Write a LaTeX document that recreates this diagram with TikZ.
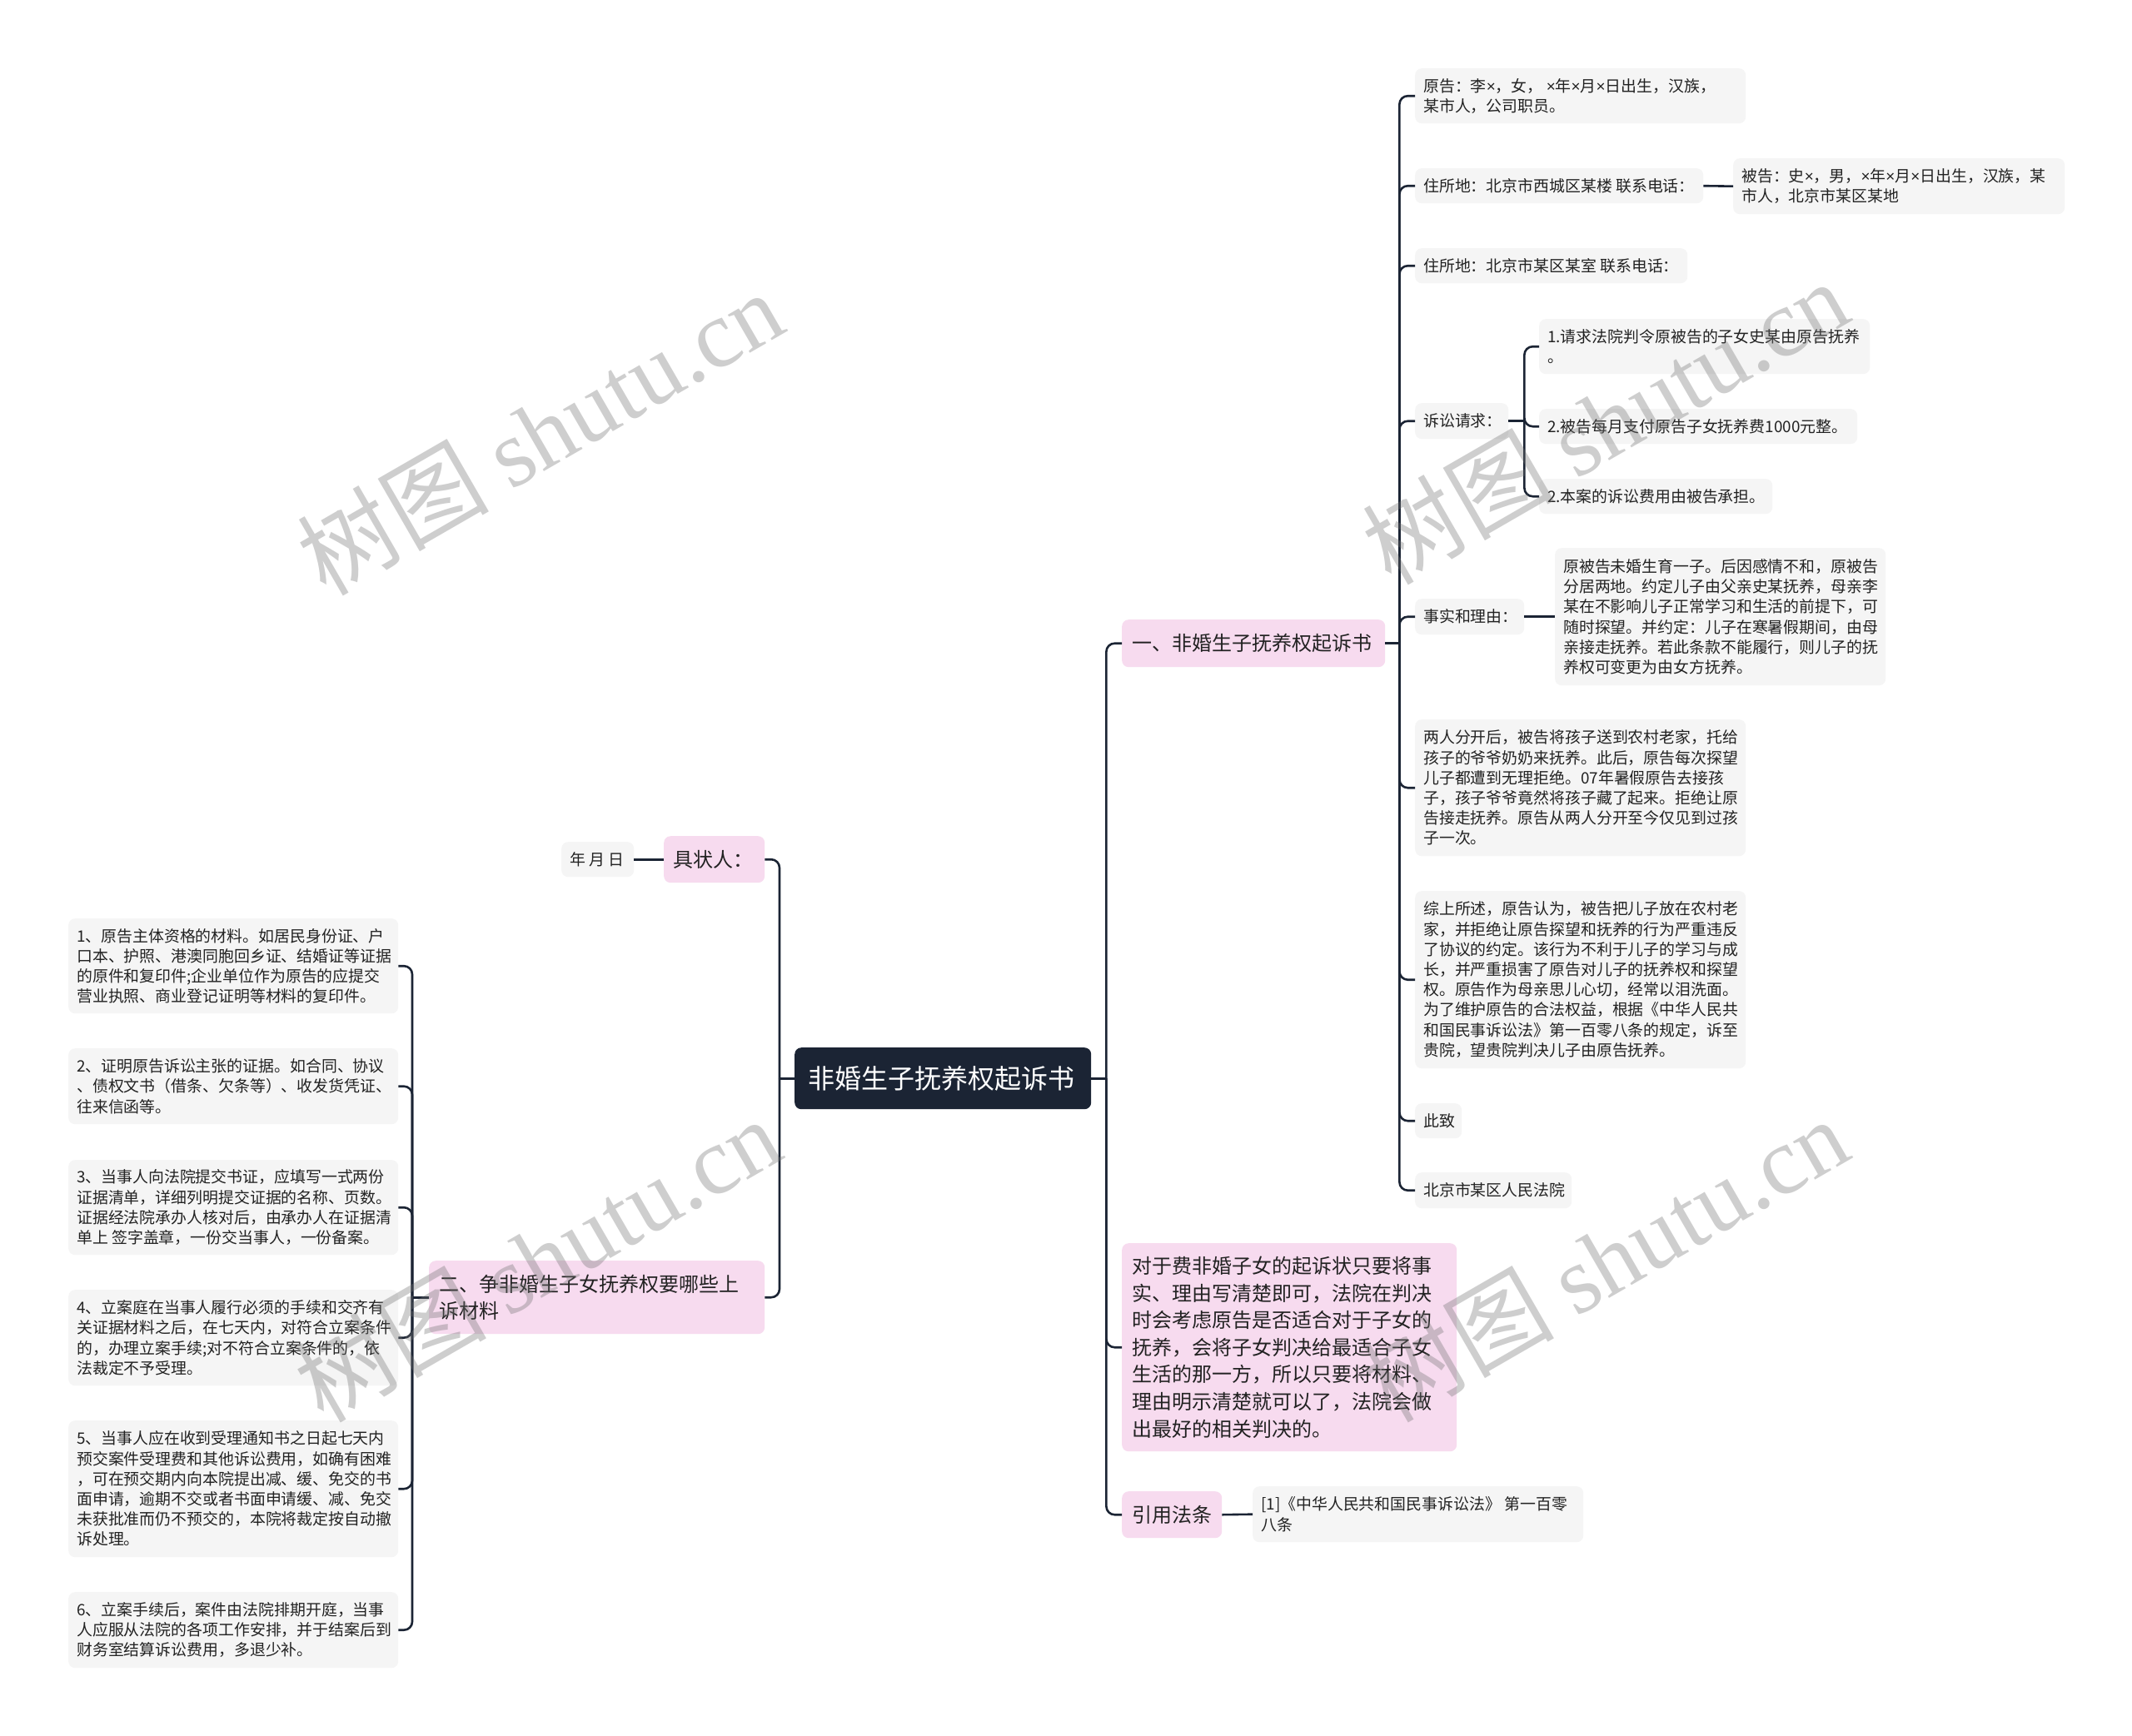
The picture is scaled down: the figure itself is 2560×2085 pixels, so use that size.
\documentclass[tikz,border=0pt]{standalone}
\usepackage{fontspec}
\setmainfont{Noto Sans CJK SC}
\newfontfamily\wmserif{Liberation Serif}
\newfontfamily\latinsans{Liberation Sans}
\newcommand\X{{\latinsans ×}}
\definecolor{leafgray}{HTML}{F5F5F5}
\definecolor{pinkbg}{HTML}{F7DBEF}
\definecolor{rootbg}{HTML}{1B2434}
\definecolor{linec}{HTML}{1B2434}
\definecolor{txt}{HTML}{222222}
\tikzset{
  leaf/.style={fill=leafgray, rounded corners=8, inner sep=0},
  leaftxt/.style={align=left, inner sep=0, text=txt, font=\fontsize{18.9}{24.2}\selectfont},
  pink/.style={fill=pinkbg, rounded corners=8, inner sep=0},
  pinktxt/.style={align=left, inner sep=0, text=txt, font=\fontsize{24}{32.6}\selectfont},
  rootbox/.style={fill=rootbg, rounded corners=8, inner sep=0},
  roottxt/.style={align=left, inner sep=0, text=white, font=\fontsize{32}{38}\selectfont},
  conn/.style={draw=linec, line width=2.6, rounded corners=10},
  wm/.style={inner sep=0, text=black!55, text opacity=0.35, font=\fontsize{115}{115}\selectfont},
}
% name, x1, y1, x2, y2, box style, text style, padding, text
\newcommand\bx[9]{%
  \node[#6, anchor=north west, minimum width={#4-#2}, minimum height={#5-#3}] (#1) at (#2,#3) {};
  \node[#7, anchor=west] (#1t) at ([xshift=#8]#1.west) {#9};}
\begin{document}
\begin{tikzpicture}[x=1pt, y=-1pt]
\useasboundingbox (0,0) rectangle (2560,2085);
\fill[white] (0,0) rectangle (2560,2085);

% root and first level
\bx{root}{954}{1258}{1310}{1332}{rootbox}{roottxt}{16}{非婚生子抚养权起诉书}
\bx{p1}{1347}{744}{1663}{801}{pink}{pinktxt}{12}{一、非婚生子抚养权起诉书}
\bx{p2}{1347}{1493}{1749}{1743}{pink}{pinktxt}{12}{对于费非婚子女的起诉状只要将事\\实、理由写清楚即可，法院在判决\\时会考虑原告是否适合对于子女的\\抚养，会将子女判决给最适合子女\\生活的那一方，所以只要将材料、\\理由明示清楚就可以了，法院会做\\出最好的相关判决的。}
\bx{p3}{1347}{1791}{1467}{1847}{pink}{pinktxt}{12}{引用法条}
\bx{law}{1504}{1785}{1901}{1852}{leaf}{leaftxt}{10}{[1]《中华人民共和国民事诉讼法》 第一百零\\八条}
\bx{jz}{797}{1004}{918}{1060}{pink}{pinktxt}{11}{具状人：}
\bx{ymr}{674}{1011}{761}{1053}{leaf}{leaftxt}{10}{年 月 日}
\bx{p4}{515}{1514}{918}{1602}{pink}{pinktxt}{12}{二、争非婚生子女抚养权要哪些上\\诉材料}

% right leaves
\bx{yg}{1699}{82}{2096}{148}{leaf}{leaftxt}{10}{原告：李\X，女， \X 年\X 月\X 日出生，汉族，\\某市人，公司职员。}
\bx{zs1}{1699}{202}{2045}{244}{leaf}{leaftxt}{10}{住所地：北京市西城区某楼 联系电话：}
\bx{bg}{2081}{190}{2479}{257}{leaf}{leaftxt}{10}{被告：史\X，男，\X 年\X 月\X 日出生，汉族，某\\市人，北京市某区某地}
\bx{zs2}{1699}{298}{2026}{340}{leaf}{leaftxt}{10}{住所地：北京市某区某室 联系电话：}
\bx{ssqq}{1699}{484}{1811}{527}{leaf}{leaftxt}{10}{诉讼请求：}
\bx{req1}{1848}{383}{2245}{449}{leaf}{leaftxt}{10}{1.请求法院判令原被告的子女史某由原告抚养\\。}
\bx{req2}{1848}{491}{2230}{533}{leaf}{leaftxt}{10}{2.被告每月支付原告子女抚养费1000元整。}
\bx{req3}{1848}{575}{2128}{617}{leaf}{leaftxt}{10}{2.本案的诉讼费用由被告承担。}
\bx{sshly}{1699}{719}{1830}{762}{leaf}{leaftxt}{10}{事实和理由：}
\bx{facts}{1867}{658}{2264}{823}{leaf}{leaftxt}{10}{原被告未婚生育一子。后因感情不和，原被告\\分居两地。约定儿子由父亲史某抚养，母亲李\\某在不影响儿子正常学习和生活的前提下，可\\随时探望。并约定：儿子在寒暑假期间，由母\\亲接走抚养。若此条款不能履行，则儿子的抚\\养权可变更为由女方抚养。}
\bx{lr}{1699}{864}{2096}{1028}{leaf}{leaftxt}{10}{两人分开后，被告将孩子送到农村老家，托给\\孩子的爷爷奶奶来抚养。此后，原告每次探望\\儿子都遭到无理拒绝。07年暑假原告去接孩\\子，孩子爷爷竟然将孩子藏了起来。拒绝让原\\告接走抚养。原告从两人分开至今仅见到过孩\\子一次。}
\bx{zsh}{1699}{1070}{2096}{1283}{leaf}{leaftxt}{10}{综上所述，原告认为，被告把儿子放在农村老\\家，并拒绝让原告探望和抚养的行为严重违反\\了协议的约定。该行为不利于儿子的学习与成\\长，并严重损害了原告对儿子的抚养权和探望\\权。原告作为母亲思儿心切，经常以泪洗面。\\为了维护原告的合法权益，根据《中华人民共\\和国民事诉讼法》第一百零八条的规定，诉至\\贵院，望贵院判决儿子由原告抚养。}
\bx{cz}{1699}{1325}{1755}{1367}{leaf}{leaftxt}{10}{此致}
\bx{fy}{1699}{1408}{1887}{1451}{leaf}{leaftxt}{10}{北京市某区人民法院}

% left leaves
\bx{i1}{82}{1103}{478}{1217}{leaf}{leaftxt}{10}{1、原告主体资格的材料。如居民身份证、户\\口本、护照、港澳同胞回乡证、结婚证等证据\\的原件和复印件;企业单位作为原告的应提交\\营业执照、商业登记证明等材料的复印件。}
\bx{i2}{82}{1259}{478}{1350}{leaf}{leaftxt}{10}{2、证明原告诉讼主张的证据。如合同、协议\\、债权文书（借条、欠条等）、收发货凭证、\\往来信函等。}
\bx{i3}{82}{1393}{478}{1507}{leaf}{leaftxt}{10}{3、当事人向法院提交书证，应填写一式两份\\证据清单，详细列明提交证据的名称、页数。\\证据经法院承办人核对后，由承办人在证据清\\单上 签字盖章，一份交当事人，一份备案。}
\bx{i4}{82}{1549}{478}{1664}{leaf}{leaftxt}{10}{4、立案庭在当事人履行必须的手续和交齐有\\关证据材料之后，在七天内，对符合立案条件\\的，办理立案手续;对不符合立案条件的，依\\法裁定不予受理。}
\bx{i5}{82}{1706}{478}{1870}{leaf}{leaftxt}{10}{5、当事人应在收到受理通知书之日起七天内\\预交案件受理费和其他诉讼费用，如确有困难\\，可在预交期内向本院提出减、缓、免交的书\\面申请，逾期不交或者书面申请缓、减、免交\\未获批准而仍不预交的，本院将裁定按自动撤\\诉处理。}
\bx{i6}{82}{1912}{478}{2003}{leaf}{leaftxt}{10}{6、立案手续后，案件由法院排期开庭，当事\\人应服从法院的各项工作安排，并于结案后到\\财务室结算诉讼费用，多退少补。}

% junction coordinates
\coordinate (jR) at ([xshift=18]root.east);
\coordinate (jL) at ([xshift=-18]root.west);
\coordinate (j1) at ([xshift=17]p1.east);
\coordinate (j4) at ([xshift=-20]p4.west);
\coordinate (jq) at ([xshift=19]ssqq.east);

% connectors
\draw[conn] (root.east) -- (jR);
\foreach \c in {p1,p2,p3} \draw[conn] (jR) |- (\c.west);
\draw[conn] (root.west) -- (jL);
\foreach \c in {jz,p4} \draw[conn] (jL) |- (\c.east);
\draw[conn] (jz.west) -- (ymr.east);
\draw[conn] (p3.east) -- (law.west);
\draw[conn] (p1.east) -- (j1);
\foreach \c in {yg,zs1,zs2,ssqq,sshly,lr,zsh,cz,fy} \draw[conn] (j1) |- (\c.west);
\draw[conn] (zs1.east) -- (bg.west);
\draw[conn] (ssqq.east) -- (jq);
\foreach \c in {req1,req2,req3} \draw[conn] (jq) |- (\c.west);
\draw[conn] (sshly.east) -- (facts.west);
\draw[conn] (p4.west) -- (j4);
\foreach \c in {i1,i2,i3,i4,i5,i6} \draw[conn] (j4) |- (\c.east);

% watermarks
\foreach \p/\n in {{(648,519)}/w1,{(1927,506)}/w2,{(645,1512)}/w3,{(1927,1512)}/w4}
  \node[wm, rotate=30] (\n) at \p {树图 {\wmserif shutu.cn}};
\end{tikzpicture}
\end{document}
